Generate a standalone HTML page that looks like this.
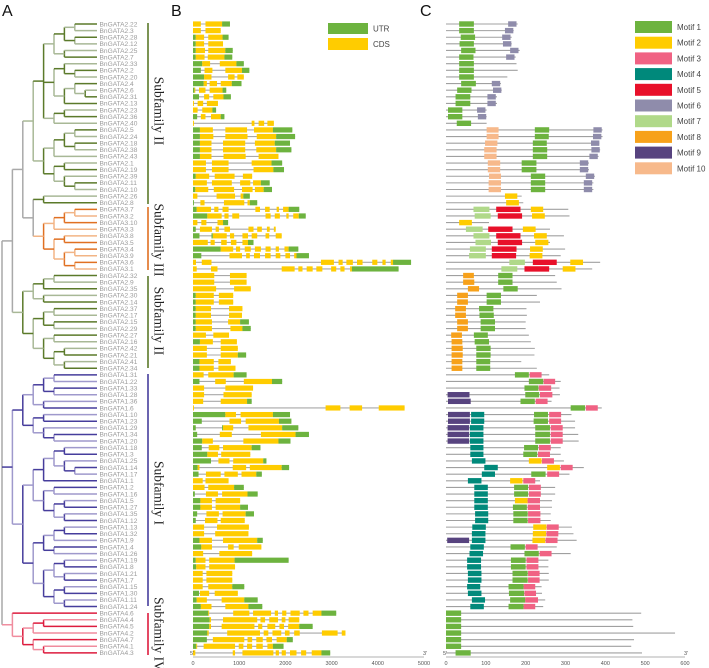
<!DOCTYPE html>
<html><head><meta charset="utf-8"><style>
html,body{margin:0;padding:0;background:#fff;}
svg{display:block;font-family:"Liberation Sans",sans-serif;}
</style></head><body>
<svg id="fig" width="709" height="668" viewBox="0 0 709 668">
<text x="2" y="16" font-size="16" fill="#111">A</text>
<text x="171" y="16" font-size="16" fill="#111">B</text>
<text x="420" y="16" font-size="16" fill="#111">C</text>
<g>
<rect x="328" y="23" width="40" height="11" fill="#6db33f"/>
<text x="373" y="31.5" font-size="8" fill="#444">UTR</text>
<rect x="328" y="38" width="40" height="12" fill="#ffcc00"/>
<text x="373" y="47" font-size="8" fill="#444">CDS</text>
</g>
<g id="tree"></g>
<g id="labels"></g>
<g id="subfam"></g>
<g id="genes"></g>
<g id="motifs"></g>
<g id="mlegend"></g>
<g id="axes"></g>
</svg>
<script>
const geneNames=["2.22","2.3","2.28","2.12","2.25","2.7","2.33","2.2","2.20","2.4","2.6","2.31","2.13","2.23","2.36","2.40","2.5","2.24","2.18","2.38","2.43","2.1","2.19","2.39","2.11","2.10","2.26","2.8",
"3.7","3.2","3.10","3.3","3.8","3.5","3.4","3.9","3.6","3.1",
"2.32","2.9","2.35","2.30","2.14","2.37","2.17","2.15","2.29","2.27","2.16","2.42","2.21","2.41","2.34",
"1.31","1.22","1.33","1.28","1.36","1.6","1.10","1.23","1.29","1.34","1.20","1.18","1.3","1.25","1.14","1.17","1.1","1.2","1.16","1.5","1.27","1.35","1.12","1.13","1.32","1.9","1.4","1.26","1.19","1.8","1.21","1.7","1.15","1.30","1.11","1.24",
"4.6","4.4","4.5","4.2","4.7","4.1","4.3"];
const tree=[[[[[[[["2.22","2.3"],["2.28","2.12"]],["2.25","2.7"]],[["2.33",["2.2","2.20"]],[["2.4",["2.6","2.31"]],"2.13"]],[["2.23","2.36"],"2.40"]],[[[["2.5","2.24"],["2.18","2.38"]],"2.43"],[["2.1","2.19"],["2.39",["2.11","2.10"]]]]],[["2.26","2.8"],[[[["3.7","3.2"],"3.10"],"3.3"],[["3.8","3.5"],[["3.4","3.9"],["3.6","3.1"]]]]]],[[[["2.32","2.9"],"2.35"],["2.30","2.14"]],[[["2.37","2.17"],["2.15","2.29"]],[["2.27","2.16"],[["2.42","2.21"],["2.41","2.34"]]]]]],
[[[[["1.31","1.22"],["1.33","1.28"]],["1.36","1.6"]],[["1.10","1.23"],["1.29",["1.34","1.20"]]]],[[[[["1.18","1.3"],["1.25",["1.14","1.17"]]],"1.1"],[["1.2","1.16"],[["1.5","1.27"],["1.35","1.12"]]]],[[[["1.13","1.32"],"1.9"],["1.4","1.26"]],[[["1.19","1.8"],["1.21","1.7"]],[["1.15","1.30"],["1.11","1.24"]]]]]],
["4.6",[[["4.4","4.5"],"4.2"],["4.7",["4.1","4.3"]]]]];
const geneSegs=["C0-170 C270-630 U630-800","C0-170 C270-600","U0-60 C60-240 C330-640 U640-770","U0-60 C60-240 C330-650","U0-60 C60-260 C330-700 U700-860","U0-60 C60-250 C320-680 U680-850","U0-200 C200-370 C580-940 U940-1100","U0-170 C250-420 C700-1060 U1060-1220","U0-240 C240-400 C760-900 C960-1100","U0-230 C230-300 C360-520 C600-840 U840-1050","U0-30 C30-50 C130-270 C360-640 U640-720","U0-130 C240-350 C440-660 U660-820","C0-20 C100-220 C300-540","C0-100 C200-420 U420-500","U0-90 C170-270 C390-600 U600-680","C0-20 C1270-1330 C1420-1540 C1610-1750","U0-150 C150-430 C700-1170 C1320-1730 U1730-2150","U0-150 C150-440 C700-1180 C1380-1800 U1800-2210","U0-150 C150-400 C650-1130 C1340-1770 U1770-2100","U0-150 C150-400 C650-1130 C1370-1800 U1800-2130","U0-150 C150-400 C660-1140 C1420-1850","C0-280 C410-770 C1270-1700 U1700-1930","C0-280 C410-770 C1310-1740 U1740-1970","U0-60 C60-350 C470-900 C1080-1280","C0-300 C410-840 C1020-1240 C1300-1470 U1470-1660","U0-50 C50-330 C450-890 C1060-1290 C1340-1530 U1530-1710","C0-95 C510-910 C1030-1090 U1090-1230","U0-20 C160-250 C670-1110 C1180-1230 U1230-1390",
"U0-80 C80-390 C460-550 C640-770 C1350-1450 C1560-1660 C1810-1860 C1950-2070 U2070-2300","U0-310 C310-620 C680-770 C850-1000 C1570-1680 C1770-1880 C2020-2070 C2170-2290 U2290-2440","C0-95 C180-290 C530-650 U650-760","U0-60 C150-410 C490-560 C680-800 C1200-1310 C1390-1490 C1600-1660 C1750-1790","U0-140 U400-430 C430-730 C800-890 C1070-1190 C1270-1390 C1570-1650 C1790-1920","C0-320 C380-470 C610-730 C820-940 C1070-1190 U1190-1310","U0-600 C600-870 C930-1020 C1120-1250 C1340-1470 C1570-1680 C1790-1860 C1980-2070 U2070-2280","U0-180 C790-1060 C1150-1230 C1320-1450 C1560-1680 C1790-1890 C2000-2100 C2190-2240 U2240-2510","C0-65 C190-400 C2770-3050 C3150-3240 C3320-3460 C3550-3670 C3880-3990 C4100-4170 C4280-4330 U4330-4720","C0-80 C390-530 C1920-2200 C2280-2370 C2460-2590 C2670-2800 C2990-3100 C3190-3280 C3400-3440 U3440-4450",
"C0-460 C800-1160","C0-460 C800-1160","C0-500 C890-1250","U0-60 C60-450 C560-870","U0-60 C60-450 C560-870","U0-60 C60-390 C780-1070","U0-60 C60-390 C780-1060","U0-60 C60-410 C760-1020 U1020-1210","U0-60 C60-410 C810-1070 U1070-1250","C0-280 C440-780","U0-150 C150-430 C600-950","C0-300 C600-970","C0-300 C600-970 U970-1150","U0-140 C140-450 C550-820","U0-140 C140-450 C550-920",
"C0-230 C330-880 U880-1160","U0-140 C480-710 C1100-1710 U1710-1930","C0-240 C700-1300","C0-240 C660-1270","C0-220 C600-1170 U1170-1270","C0-20 C2870-3190 C3390-3660 C4020-4580","U0-700 C700-930 C1030-1730 U1730-2100","U0-190 C790-1040 C1140-1860 U1860-2130","U0-60 U630-650 C650-870 C1200-1930 U1930-2280","U0-90 C580-840 C1470-2220 U2220-2510","U0-200 C200-430 C1090-1850 U1850-2110","U0-190 C340-570 C650-1270 U1270-1460","U0-310 C310-540 C610-1240","U0-390 C550-790 C870-1520 U1520-1590","U0-100 C100-140 C860-1150 C1230-1920 U1920-2080","U0-120 C280-600 C680-970 C1050-1370 U1370-1490","C0-210 C270-770","C0-250 C330-890 U890-1100","U0-40 C280-540 C630-1180 U1180-1400","U0-160 C160-410 C490-1020","U0-160 C160-410 C490-1020 U1020-1190","U0-90 C290-560 C640-1140 U1140-1320","U0-60 C260-530 C600-1120","C0-240 C520-1210","C0-240 C480-1200","U0-140 C140-410 C650-1390 U1390-1510","U0-180 C180-410 C760-880 C990-1480","C0-220 C570-1280","U0-60 C60-270 C350-900 U900-2070","U0-70 C70-270 C350-910","C0-210 C290-850","C0-210 C290-850","C0-210 C330-850 U850-1110","U0-130 C150-350 C470-970","U0-80 C80-300 C620-1110 U1110-1400","U0-170 C170-400 C700-1200 U1200-1500",
"U0-330 C330-350 C870-1220 C1300-1690 C1770-1840 C1930-2020 C2110-2310 C2390-2500 C2590-2780 U2780-3100","U0-360 C360-390 C650-1390 C1460-1560 C1650-1840 C1920-2000 C2070-2300","U0-350 C350-390 C620-1330 C1410-1500 C1610-1780 C1870-1970 C2060-2300 U2300-2590","U0-310 C310-340 C740-1450 C1530-1630 C1720-1910 C1990-2090 C2190-2310 C2790-3130 C3220-3300","U0-300 C430-1110 C1180-1280 C1370-1510 C1590-1710 C1810-2030 U2030-2160","U0-70 C70-90 C230-910 C990-1090 C1170-1280 C1370-1510 C1610-1730 U1730-1960","C0-50 C860-910 C1070-1740 C1790-1860 C1920-2010 C2100-2240 C2340-2450 C2570-2780 U2780-2970"];
const protLen=[180,170,165,165,185,175,177,180,154,138,140,128,128,102,102,102,393,393,385,387,383,359,359,374,370,370,190,194,
307,310,108,261,296,261,299,288,387,367,
274,278,290,228,236,202,203,200,200,208,213,223,222,189,228,
259,288,285,286,265,391,315,324,324,332,333,288,288,296,346,310,236,274,274,266,266,263,263,316,320,328,278,313,257,257,258,258,240,241,249,244,
490,468,470,575,472,465,492];
const motifSegs=["1:33-70 6:156-177","1:33-70 6:148-169","1:37-73 6:141-162","1:34-70 6:143-164","1:38-74 6:161-182","1:33-69 6:151-172","1:33-70","1:33-70","1:33-70","1:38-75 6:115-136","1:28-64 6:118-139","1:24-61 6:104-125","1:24-61 6:104-125","1:5-41 6:78-99","1:5-41 6:80-101","1:27-63","10:102-132 1:223-259 6:370-391","10:102-132 1:223-258 6:369-390","10:98-129 1:218-253 6:364-385","10:96-127 1:218-254 6:365-386","10:96-127 1:218-254 6:360-381","10:105-136 1:190-227 6:336-357","10:105-136 1:190-227 6:336-357","10:108-138 1:213-249 6:351-372","10:107-138 1:213-249 6:346-367","10:107-138 1:213-249 6:346-367","2:148-179","2:151-183",
"7:69-109 5:126-187 2:213-244","7:72-112 5:130-191 2:216-248","2:33-65","7:50-92 5:106-167 2:193-225","7:69-109 5:126-187 2:221-253","7:74-113 5:130-191 2:224-257","7:60-100 5:115-177 2:211-243","7:58-100 5:115-176 2:210-242","7:159-198 5:218-278 2:312-344","7:139-179 5:197-259 2:293-325",
"8:43-70 1:131-167","8:43-71 1:131-167","8:55-83 1:144-180","8:28-55 1:102-138","8:28-55 1:102-138","8:23-50 1:83-119","8:23-50 1:84-120","8:28-55 1:87-123","8:28-55 1:87-123","8:13-40 1:70-105","8:14-41 1:72-108","8:14-42 1:76-112","8:14-42 1:76-112","8:14-41 1:76-111","8:14-41 1:76-111",
"1:173-208 3:210-240","1:208-244 3:245-274","1:197-232 3:233-264","9:4-59 1:199-234 3:236-267","9:5-62 1:187-223 3:225-255","1:313-349 3:351-381","9:5-60 4:63-96 1:221-256 3:259-289","9:5-60 4:63-96 1:220-256 3:259-289","9:4-58 4:60-94 1:224-261 3:263-293","9:4-58 4:60-94 1:224-261 3:263-293","9:4-58 4:60-94 1:224-261 3:263-293","4:61-94 1:196-231 3:233-263","4:61-94 1:194-229 3:231-261","4:65-99 2:208-240 3:241-271","4:96-130 2:254-286 3:288-318","4:90-123 1:214-250 3:254-284","4:55-89 2:161-192 3:194-224","4:71-105 1:171-206 3:208-238","4:71-105 1:171-206 3:208-238","4:71-105 2:173-205 3:205-236","4:71-105 1:168-203 3:205-236","4:73-106 1:169-205 3:206-237","4:73-106 1:169-205 3:206-237","4:66-100 2:219-252 3:253-283","4:65-99 2:218-251 3:252-282","9:3-58 4:65-99 2:217-249 3:250-280","4:61-95 1:162-198 3:200-230","4:59-93 1:197-233 3:235-265","4:53-88 1:163-200 3:202-232","4:53-88 1:163-200 3:202-232","4:55-89 1:167-205 3:206-235","4:55-89 1:167-205 3:206-235","4:53-86 1:157-195 3:195-224","4:55-89 1:158-196 3:197-226","4:65-98 1:161-199 3:199-231","4:61-95 1:157-195 3:195-224",
"1:0-38","1:0-38","1:0-38","1:0-38","1:0-38","1:0-38","1:24-62"];
const motifLabels=["Motif 1","Motif 2","Motif 3","Motif 4","Motif 5","Motif 6","Motif 7","Motif 8","Motif 9","Motif 10"];
const bpTicks=[0,1000,2000,3000,4000,5000];
const aaTicks=[0,100,200,300,400,500,600];

const NS="http://www.w3.org/2000/svg";
const motifColors=["#6db33f","#ffcc00","#f06283","#00897b","#e8102a","#8f8cab","#b0d989","#f7a11a","#57437f","#f7b98b"];
const famColors={"1":["#463d9c","#9f99cc"],"2":["#5b7a2a","#a8b896"],"3":["#e07022","#f2b485"],"4":["#dd1c3e","#f08c9e"]};
function mk(tag,attrs,parent){const e=document.createElementNS(NS,tag);for(const k in attrs)e.setAttribute(k,attrs[k]);parent.appendChild(e);return e;}
const rowY=i=>24+i*6.62;
const bpX=v=>193+v*(231/5000);
const aaX=v=>446+v*(239/600);

// Tree
const tG=document.getElementById('tree');
const LEAFX=97,STEP=10.4,ROOTX=2;
function fam(n){return typeof n==='string'?n.split('.')[0]:(()=>{const s=new Set(n.map(fam));return s.size===1?[...s][0]:'x';})();}
function layout(node,depth){
  if(typeof node==='string'){return {y:rowY(geneNames.indexOf(node)),x:LEAFX};}
  const x=Math.min(ROOTX+depth*STEP,LEAFX-6);
  const kids=node.map(c=>layout(c,depth+1));
  const f=fam(node);
  const col=f==='x'?'#a9a9a9':famColors[f][depth%2];
  const ys=kids.map(k=>k.y);
  const v=mk('line',{x1:x,x2:x,y1:Math.min(...ys),y2:Math.max(...ys),stroke:col,'stroke-width':1.5},tG);
  
  
  kids.forEach((k,i)=>{
    const cf=fam(node[i]);
    const cc=cf==='x'?'#a9a9a9':famColors[cf][(depth+1+i)%2];
    const h=mk('line',{x1:x,x2:k.x,y1:k.y,y2:k.y,stroke:cc,'stroke-width':1.5},tG);
    
    
  });
  return {x,y:(Math.min(...ys)+Math.max(...ys))/2};
}
layout(tree,0);

// Labels
const lG=document.getElementById('labels');
geneNames.forEach((n,i)=>{
  const t=mk('text',{x:99.5,y:rowY(i)+2.3,'font-size':6.6,fill:'#9a9a9a'},lG);
  t.textContent='BnGATA'+n;
  
  
});

// Subfamilies
const sG=document.getElementById('subfam');
const subs=[["Subfamily II",23,204,"#5b7a2a",111],["Subfamily III",207,270,"#e07022",240],["Subfamily II",276,368,"#5b7a2a",321],["Subfamily I",374,606,"#463d9c",493],["Subfamily IV",613,655,"#dd1c3e",634]];
subs.forEach(s=>{
  const b=mk('line',{x1:148,x2:148,y1:s[1],y2:s[2],stroke:s[3],'stroke-width':1.6},sG);
  
  
  const t=mk('text',{x:0,y:0,transform:`translate(159,${s[4]}) rotate(90)`,'text-anchor':'middle','dominant-baseline':'central','font-size':13.5,'font-family':'"Liberation Serif",serif',fill:'#222'},sG);
  t.textContent=s[0];
  
  
});

// Gene structures
const gG=document.getElementById('genes');
geneSegs.forEach((s,i)=>{
  const segs=s.split(' ').map(p=>{const m=p.match(/([UC])(\d+)-(\d+)/);return [m[1],+m[2],+m[3]];});
  const end=Math.max(...segs.map(q=>q[2]));const y=rowY(i);
  const l=mk('line',{x1:bpX(0),x2:bpX(end),y1:y,y2:y,stroke:'#a8a8a8','stroke-width':1.1},gG);
  
  
  segs.forEach(q=>{
    const r=mk('rect',{x:bpX(q[1]),y:y-2.6,width:Math.max(0.8,bpX(q[2])-bpX(q[1])),height:5.2,fill:q[0]==='U'?'#6db33f':'#ffcc00'},gG);
    
    
  });
});

// Motifs
const mG=document.getElementById('motifs');
motifSegs.forEach((s,i)=>{
  const y=rowY(i);
  const l=mk('line',{x1:aaX(0),x2:aaX(protLen[i]),y1:y,y2:y,stroke:'#a0a0a0','stroke-width':1.1},mG);
  
  
  s.split(' ').forEach(p=>{
    const m=p.match(/(\d+):(\d+)-(\d+)/);const k=+m[1];
    const r=mk('rect',{x:aaX(+m[2]),y:y-2.7,width:aaX(+m[3])-aaX(+m[2]),height:5.4,fill:motifColors[k-1]},mG);
    
    
  });
});

// Motif legend
const lgG=document.getElementById('mlegend');
motifLabels.forEach((m,i)=>{
  const y=21+i*15.7;
  const r=mk('rect',{x:635,y:y,width:37,height:12,fill:motifColors[i]},lgG);
  
  
  const t=mk('text',{x:677,y:y+9,'font-size':8,fill:'#444'},lgG);
  t.textContent=m;
  
  
});

// Axes
const aG=document.getElementById('axes');
function axis(x0,x1,ticks,fx,name){
  const l=mk('line',{x1:x0,x2:x1,y1:657,y2:657,stroke:'#999','stroke-width':0.8},aG);
  
  
  ticks.forEach(v=>{
    const t=mk('text',{x:fx(v),y:665,'font-size':5.5,fill:'#555','text-anchor':'middle'},aG);
    t.textContent=v;
    
    
  });
  const a=mk('text',{x:x0-3,y:655,'font-size':5.5,fill:'#555'},aG);a.textContent="5'";
  
  
  const b=mk('text',{x:x1-1,y:655,'font-size':5.5,fill:'#555'},aG);b.textContent="3'";
  
  
}
axis(bpX(0),bpX(5000),bpTicks,bpX,'bp-axis');
axis(aaX(0),aaX(600),aaTicks,aaX,'aa-axis');
</script>
</body></html>
